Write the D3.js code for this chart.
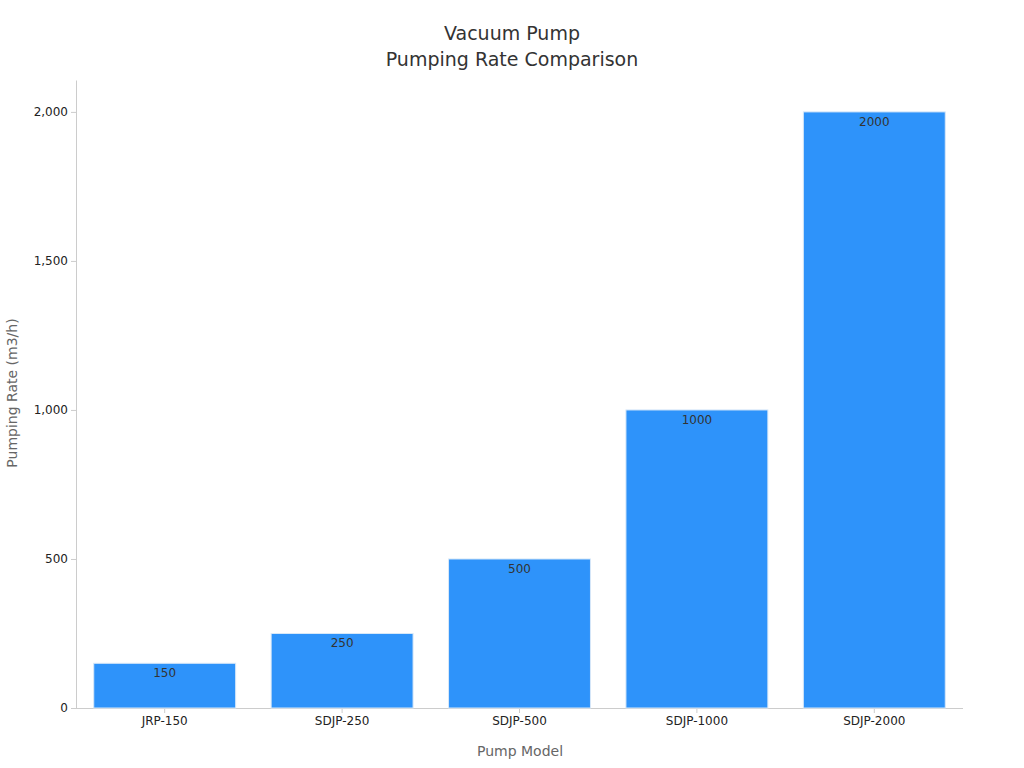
<!DOCTYPE html>
<html><head><meta charset="utf-8">
<script src="https://cdn.jsdelivr.net/npm/d3@7"></script>
<style>body{margin:0;background:#fff;font-family:"DejaVu Sans",sans-serif}</style>
</head><body><svg width="1024" height="768"></svg>
<script>
const categories = ["JRP-150","SDJP-250","SDJP-500","SDJP-1000","SDJP-2000"];
const values = [150,250,500,1000,2000];
const yTicks = [0,500,1000,1500,2000];
const titleLines = ["Vacuum Pump","Pumping Rate Comparison"];
const xTitle = "Pump Model", yTitle = "Pumping Rate (m3/h)";

const svg = d3.select("svg");
const m = {l:76, r:963, t:80, b:708};
const x = d3.scaleBand().domain(categories).range([m.l,m.r]).paddingInner(0.2).paddingOuter(0.1);
const y = d3.scaleLinear().domain([0,2107]).range([m.b,m.t]);

svg.selectAll(".t").data(titleLines).enter().append("text")
  .attr("x",512).attr("y",(d,i)=>40+i*26).attr("text-anchor","middle")
  .attr("font-size",19).attr("fill","#333").text(d=>d);

const ya = svg.append("g").attr("transform",`translate(${m.l},0)`)
  .call(d3.axisLeft(y).tickValues(yTicks).tickSize(5).tickSizeOuter(0));
const xa = svg.append("g").attr("transform",`translate(0,${m.b})`)
  .call(d3.axisBottom(x).tickSize(5).tickSizeOuter(0));
[ya,xa].forEach(a=>{a.selectAll("path,line").attr("stroke","#ccc");
  a.selectAll("text").attr("font-size",12).attr("fill","#222").attr("font-family","DejaVu Sans");});
xa.select("path").attr("d",`M${m.l},0.5H${m.r}`);

svg.selectAll(".bar").data(values).enter().append("rect")
  .attr("x",(d,i)=>x(categories[i])).attr("width",x.bandwidth())
  .attr("y",d=>y(d)).attr("height",d=>y(0)-y(d))
  .attr("fill","#2E93FA").attr("stroke","#d8e8f8").attr("stroke-width",1);
svg.selectAll(".lbl").data(values).enter().append("text")
  .attr("x",(d,i)=>x(categories[i])+x.bandwidth()/2).attr("y",d=>y(d)+14)
  .attr("text-anchor","middle").attr("font-size",12).attr("fill","#333").text(d=>d);

svg.append("text").attr("x",520).attr("y",756).attr("text-anchor","middle")
  .attr("font-size",14).attr("fill","#666").text(xTitle);
svg.append("text").attr("transform","translate(17,393) rotate(-90)").attr("text-anchor","middle")
  .attr("font-size",14).attr("fill","#666").text(yTitle);
</script></body></html>
